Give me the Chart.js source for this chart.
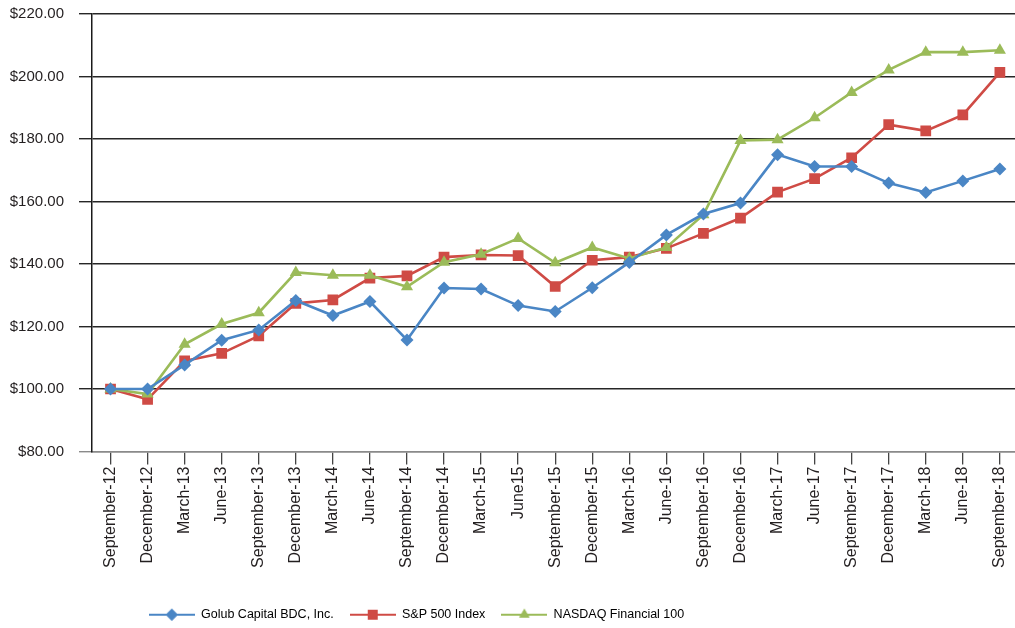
<!DOCTYPE html>
<html><head><meta charset="utf-8">
<script src="https://cdn.jsdelivr.net/npm/chart.js@4.4.1/dist/chart.umd.min.js"></script>
<style>
html,body{margin:0;padding:0;background:#fff;overflow:hidden;}
#wrap{width:1026px;height:631px;position:relative;}
canvas{display:block;}
</style></head><body>
<div id="wrap"><canvas id="c" width="1026" height="631"></canvas></div>
<script>
const categories = ["September-12","December-12","March-13","June-13","September-13","December-13","March-14","June-14","September-14","December-14","March-15","June15","September-15","December-15","March-16","June-16","September-16","December-16","March-17","June-17","September-17","December-17","March-18","June-18","September-18"];
const golub  = [100,100,107.7,115.6,118.9,128.3,123.5,128.0,115.7,132.3,132.0,126.7,124.8,132.4,140.5,149.3,156.0,159.5,175.0,171.2,171.2,165.9,162.9,166.6,170.4];
const sp500  = [100,96.7,109.0,111.4,117.0,127.4,128.5,135.5,136.2,142.2,142.9,142.7,132.8,141.2,142.2,145.0,149.8,154.7,163.0,167.3,174.0,184.6,182.6,187.7,201.3];
const nasdaq = [100,98.4,114.3,120.8,124.4,137.3,136.4,136.4,132.7,140.6,143.1,148.2,140.4,145.3,141.8,145.3,155.8,179.5,179.8,186.8,194.9,202.1,207.8,207.8,208.4];
const seriesNames = ["Golub Capital BDC, Inc.","S&P 500 Index","NASDAQ Financial 100"];
const seriesColors = ["#4A86C5","#CF4B45","#9BBB59"];
const seriesStyles = ["rectRot","rect","triangle"];
const yMin = 80, yMax = 220, yStep = 20;

const FONT = "'Liberation Sans', Arial, sans-serif";

function legendIcon(color, style) {
  const c = document.createElement('canvas');
  c.width = 46; c.height = 14;
  const ctx = c.getContext('2d');
  ctx.strokeStyle = color; ctx.lineWidth = 2;
  ctx.beginPath(); ctx.moveTo(0, 7); ctx.lineTo(46, 7); ctx.stroke();
  ctx.fillStyle = color;
  Chart.helpers.drawPoint(ctx, {pointStyle: style, radius: style === 'rect' ? 7 : 6, borderWidth: 0, rotation: 0}, 23, 7);
  ctx.fill();
  return c;
}

const shiftLegend = {
  id: 'shiftLegend',
  afterLayout(chart) {
    const lg = chart.legend;
    lg.left = 0; lg.right = 833; lg.width = 833;
  }
};

const radii = [6.5, 7.6, 7];
const datasets = [golub, sp500, nasdaq].map((d, i) => ({
  label: seriesNames[i],
  data: d,
  borderColor: seriesColors[i],
  backgroundColor: seriesColors[i],
  pointBackgroundColor: seriesColors[i],
  pointBorderColor: seriesColors[i],
  pointBorderWidth: 0,
  pointStyle: seriesStyles[i],
  pointRadius: radii[i],
  pointHoverRadius: radii[i],
  borderWidth: 2.6,
  tension: 0,
  fill: false,
  order: [1, 3, 2][i]
}));

new Chart(document.getElementById('c'), {
  type: 'line',
  data: { labels: categories, datasets },
  plugins: [shiftLegend],
  options: {
    responsive: false,
    animation: false,
    devicePixelRatio: 1,
    layout: { padding: { top: 14, left: 0, right: 0, bottom: 0 } },
    plugins: {
      tooltip: { enabled: false },
      legend: {
        position: 'bottom',
        align: 'center',
        labels: {
          usePointStyle: true,
          pointStyleWidth: 46,
          padding: 16,
          color: '#231f20',
          font: { family: FONT, size: 12.5 },
          generateLabels(chart) {
            return seriesNames.map((n, i) => ({
              text: n,
              fillStyle: seriesColors[i],
              strokeStyle: seriesColors[i],
              lineWidth: 0,
              pointStyle: legendIcon(seriesColors[i], seriesStyles[i]),
              datasetIndex: i,
              hidden: false
            }));
          }
        }
      }
    },
    scales: {
      x: {
        type: 'category',
        offset: true,
        afterFit(scale) { scale.height = 141; },
        grid: { drawOnChartArea: false, drawTicks: true, tickLength: 13, color: '#444', lineWidth: 1.3 },
        border: { display: true, color: '#8a8a8a', width: 1.5 },
        ticks: {
          autoSkip: false, minRotation: 90, maxRotation: 90, padding: 2,
          color: '#231f20', font: { family: FONT, size: 16 }
        }
      },
      y: {
        min: yMin, max: yMax,
        afterFit(scale) { scale.width = 92; scale.paddingTop = 0; scale.paddingBottom = 0; },
        grid: {
          color: (ctx) => ctx.tick && ctx.tick.value === yMin ? '#8a8a8a' : '#262626',
          lineWidth: 1.4,
          tickLength: 13,
          drawTicks: true
        },
        border: { display: true, color: '#1a1a1a', width: 1.5 },
        ticks: {
          stepSize: yStep, padding: 15,
          color: '#231f20', font: { family: FONT, size: 15 },
          callback: (v) => '$' + Number(v).toFixed(2)
        }
      }
    }
  }
});
</script>
</body></html>
